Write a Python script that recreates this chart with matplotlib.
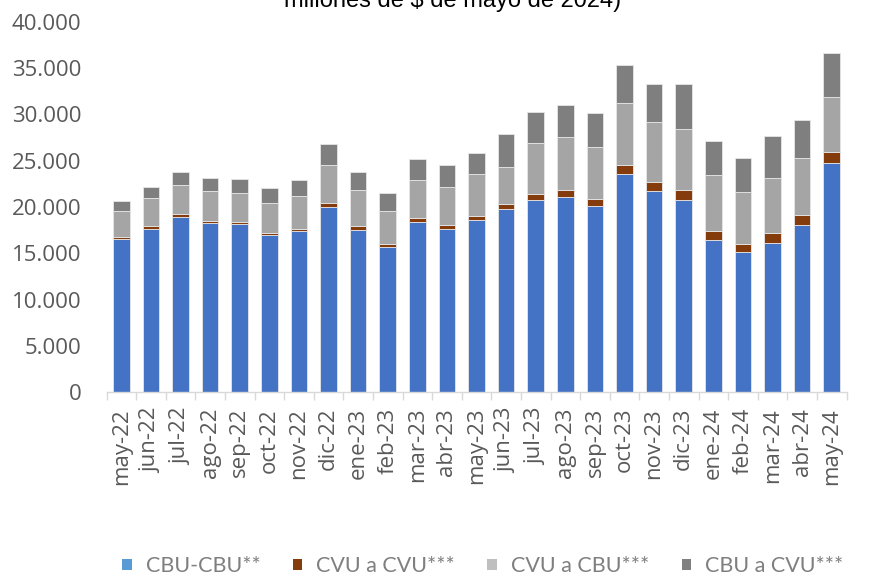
import matplotlib.pyplot as plt
from matplotlib.patches import Patch
from matplotlib.ticker import FuncFormatter, FixedLocator
import numpy as np

meses = ["may-22", "jun-22", "jul-22", "ago-22", "sep-22", "oct-22", "nov-22",
         "dic-22", "ene-23", "feb-23", "mar-23", "abr-23", "may-23", "jun-23",
         "jul-23", "ago-23", "sep-23", "oct-23", "nov-23", "dic-23", "ene-24",
         "feb-24", "mar-24", "abr-24", "may-24"]

# montos en millones de $ de mayo de 2024
cbu_cbu = [16540, 17660, 18950, 18270, 18130, 16940, 17370, 20040, 17480, 15640,
           18380, 17660, 18560, 19750, 20790, 21120, 20140, 23600, 21690, 20760,
           16400, 15100, 16110, 18090, 24790]
cvu_cvu = [220, 250, 290, 250, 280, 290, 290, 390, 430, 360, 430, 430, 500, 570,
           650, 760, 760, 940, 1050, 1120, 1040, 940, 1080, 1080, 1190]
cvu_cbu = [2810, 3030, 3140, 3210, 3100, 3240, 3560, 4110, 3930, 3600, 4140, 4110,
           4510, 4040, 5520, 5690, 5590, 6670, 6450, 6550, 6060, 5580, 5980, 6130, 5910]
cbu_cvu = [1080, 1260, 1440, 1370, 1480, 1620, 1660, 2230, 1910, 1880, 2240, 2340,
           2270, 3570, 3310, 3420, 3670, 4140, 4140, 4830, 3670, 3710, 4510, 4140, 4760]

series = ["CBU-CBU**", "CVU a CVU***", "CVU a CBU***", "CBU a CVU***"]
colores = ["#4472C4", "#843C0C", "#A5A5A5", "#7F7F7F"]
colores_leyenda = ["#5B9BD5", "#843C0C", "#BFBFBF", "#808080"]

fig = plt.figure(figsize=(8.73, 5.76), dpi=100)
ax = fig.add_axes([106.5 / 873, 1 - 392 / 576, 740 / 873, 370 / 576])

x = np.arange(len(meses))
base = np.zeros(len(meses))
for valores, color in zip([cbu_cbu, cvu_cvu, cvu_cbu, cbu_cvu], colores):
    ax.bar(x, valores, bottom=base, width=0.56, color=color,
           edgecolor="#E6E6E6", linewidth=0.6)
    base = base + np.array(valores)

ax.set_xlim(-0.5, len(meses) - 0.5)
ax.set_ylim(0, 40000)
ax.set_yticks(range(0, 40001, 5000))
ax.yaxis.set_major_formatter(FuncFormatter(lambda v, p: f"{int(v):,}".replace(",", ".")))

ax.set_xticks(x)
ax.set_xticklabels(meses, rotation=90)
ax.xaxis.set_minor_locator(FixedLocator(np.arange(-0.5, len(meses), 1)))

ax.tick_params(axis="y", length=0, pad=18, labelsize=16, labelcolor="#595959")
ax.tick_params(axis="x", which="major", length=0, pad=11.5, labelsize=16, labelcolor="#595959")
ax.tick_params(axis="x", which="minor", length=6, width=1, color="#D9D9D9")
for lab in ax.get_xticklabels() + ax.get_yticklabels():
    lab.set_family(["Open Sans", "DejaVu Sans"])

for lado in ["left", "right", "top"]:
    ax.spines[lado].set_visible(False)
ax.spines["bottom"].set_color("#D9D9D9")
ax.spines["bottom"].set_linewidth(1)

# segunda linea del titulo (la primera queda fuera del recorte)
fig.text(453 / 873, 1 - 7 / 576, "millones de $ de mayo de 2024)", ha="center",
         va="baseline", fontsize=17, family=["Liberation Sans", "DejaVu Sans"])

handles = [Patch(facecolor=c, edgecolor="none") for c in colores_leyenda]
fig.legend(handles, series, loc="center left", bbox_to_anchor=(122 / 873, 1 - 566 / 576),
           ncol=4, frameon=False, handlelength=0.45, handleheight=0.45,
           handletextpad=0.65, columnspacing=1.5, borderaxespad=0, borderpad=0,
           prop={"family": ["Lato", "DejaVu Sans"], "size": 15.5}, labelcolor="#7F7F7F")

fig.savefig("out.png", dpi=100)
